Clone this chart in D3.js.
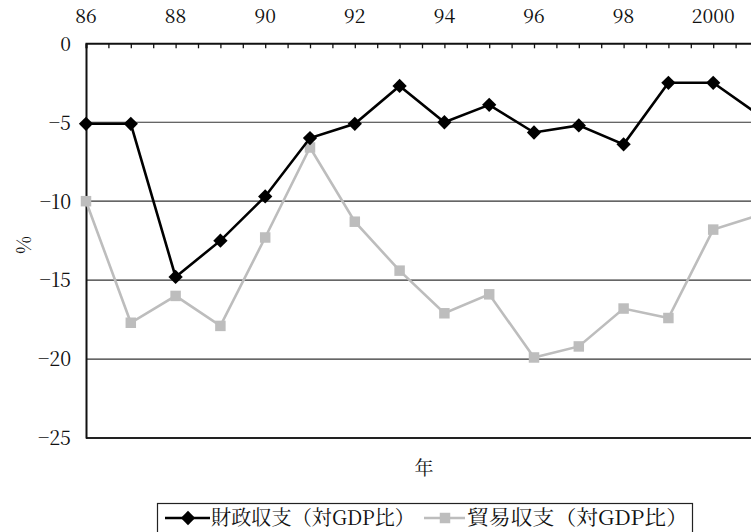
<!DOCTYPE html>
<html><head><meta charset="utf-8">
<script src="https://cdn.jsdelivr.net/npm/d3@7"></script>
<style>
html,body{margin:0;padding:0;background:#fff;}
svg{display:block;overflow:hidden;}
</style></head>
<body>
<script>
const years = [86,87,88,89,90,91,92,93,94,95,96,97,98,99,100,101];
const yearLabels = ["86","88","90","92","94","96","98","2000"];
const fiscal = [-5.1,-5.1,-14.8,-12.5,-9.7,-6.0,-5.1,-2.7,-5.0,-3.9,-5.65,-5.2,-6.4,-2.5,-2.5,-4.5];
const trade  = [-10.0,-17.7,-16.0,-17.9,-12.3,-6.6,-11.3,-14.4,-17.1,-15.9,-19.9,-19.2,-16.8,-17.4,-11.8,-10.9];
const yTicks = [0,-5,-10,-15,-20,-25];
const seriesNames = ["財政収支（対GDP比）","貿易収支（対GDP比）"];

const FONT = "'Noto Serif CJK JP','Liberation Serif',serif";

const W = 751, H = 532;
const svg = d3.select("body").append("svg").attr("width", W).attr("height", H);

const x = d3.scaleLinear().domain([86,101]).range([86,758]);
const y = d3.scaleLinear().domain([0,-25]).range([43.3,438]);

// gridlines
svg.append("g").selectAll("line").data(yTicks.filter(d=>d<0 && d>-25)).join("line")
  .attr("x1", x(86)).attr("x2", W).attr("y1", d=>y(d)).attr("y2", d=>y(d))
  .attr("stroke","#333").attr("stroke-width",1.2);

// bottom border
svg.append("line").attr("x1",x(86)).attr("x2",W).attr("y1",y(-25)).attr("y2",y(-25))
  .attr("stroke","#222").attr("stroke-width",2);

// top axis
const halfTicks = d3.range(86, 101.01, 0.5);
const topAxis = d3.axisTop(x).tickValues(halfTicks).tickSize(-5).tickFormat("");
const gt = svg.append("g").attr("transform",`translate(0,${y(0)})`).call(topAxis);
gt.select(".domain").attr("stroke","#111").attr("stroke-width",2);
gt.selectAll(".tick line").attr("stroke","#111").attr("stroke-width",1.3);
// top labels
svg.append("g").selectAll("text").data(yearLabels).join("text")
  .attr("x", (d,i)=>x(86+2*i)).attr("y", 23)
  .attr("text-anchor","middle").attr("font-size",19.5)
  .attr("font-family",FONT).attr("fill","#111").text(d=>d);

// left axis
const leftAxis = d3.axisLeft(y).tickValues(yTicks).tickSize(0)
  .tickFormat(d=> d===0 ? "0" : "\u2212"+Math.abs(d));
const gl = svg.append("g").attr("transform",`translate(${x(86)},0)`).call(leftAxis);
gl.attr("font-family",FONT);
gl.select(".domain").attr("stroke","#111").attr("stroke-width",2);
gl.selectAll(".tick text").attr("font-size",19.5).attr("x",-15).attr("dy","0.35em")
  .attr("font-family",FONT).attr("fill","#111");

// y title
svg.append("text").attr("transform","translate(24,245) rotate(-90)")
  .attr("text-anchor","middle").attr("dy","0.35em").attr("font-size",19.5).attr("font-family",FONT)
  .attr("fill","#111").text("%");
// x title
svg.append("text").attr("x",424).attr("y",475).attr("text-anchor","middle")
  .attr("font-size",19).attr("font-family",FONT).attr("fill","#111").text("年");

const line = d3.line().x((d,i)=>x(years[i])).y(d=>y(d));
const diamond = d3.symbol().type(d3.symbolDiamond2).size(130);
const square = d3.symbol().type(d3.symbolSquare2).size(140);

// trade series
svg.append("path").datum(trade).attr("d",line).attr("fill","none")
  .attr("stroke","#bdbdbd").attr("stroke-width",2.6);
svg.append("g").selectAll("path").data(trade).join("path")
  .attr("transform",(d,i)=>`translate(${x(years[i])},${y(d)})`)
  .attr("d",square).attr("fill","#bdbdbd");

// fiscal series
svg.append("path").datum(fiscal).attr("d",line).attr("fill","none")
  .attr("stroke","#000").attr("stroke-width",2.6);
svg.append("g").selectAll("path").data(fiscal).join("path")
  .attr("transform",(d,i)=>`translate(${x(years[i])},${y(d)})`)
  .attr("d",diamond).attr("fill","#000");

// legend
const lg = svg.append("g");
lg.append("rect").attr("x",157.5).attr("y",503.5).attr("width",535).attr("height",30)
  .attr("fill","#fff").attr("stroke","#222").attr("stroke-width",1.2);
lg.append("line").attr("x1",165).attr("x2",210).attr("y1",518).attr("y2",518)
  .attr("stroke","#000").attr("stroke-width",2.6);
lg.append("path").attr("transform","translate(188,518)").attr("d",diamond).attr("fill","#000");
lg.append("text").attr("x",211).attr("y",525).attr("font-size",20).attr("font-family",FONT)
  .attr("fill","#111").attr("textLength",204).attr("lengthAdjust","spacingAndGlyphs").text(seriesNames[0]);
lg.append("line").attr("x1",424).attr("x2",465).attr("y1",518).attr("y2",518)
  .attr("stroke","#bdbdbd").attr("stroke-width",2.6);
lg.append("path").attr("transform","translate(445,518)").attr("d",square).attr("fill","#bdbdbd");
lg.append("text").attr("x",467).attr("y",525).attr("font-size",20).attr("font-family",FONT)
  .attr("fill","#111").attr("textLength",221).attr("lengthAdjust","spacingAndGlyphs").text(seriesNames[1]);
</script>
</body></html>
